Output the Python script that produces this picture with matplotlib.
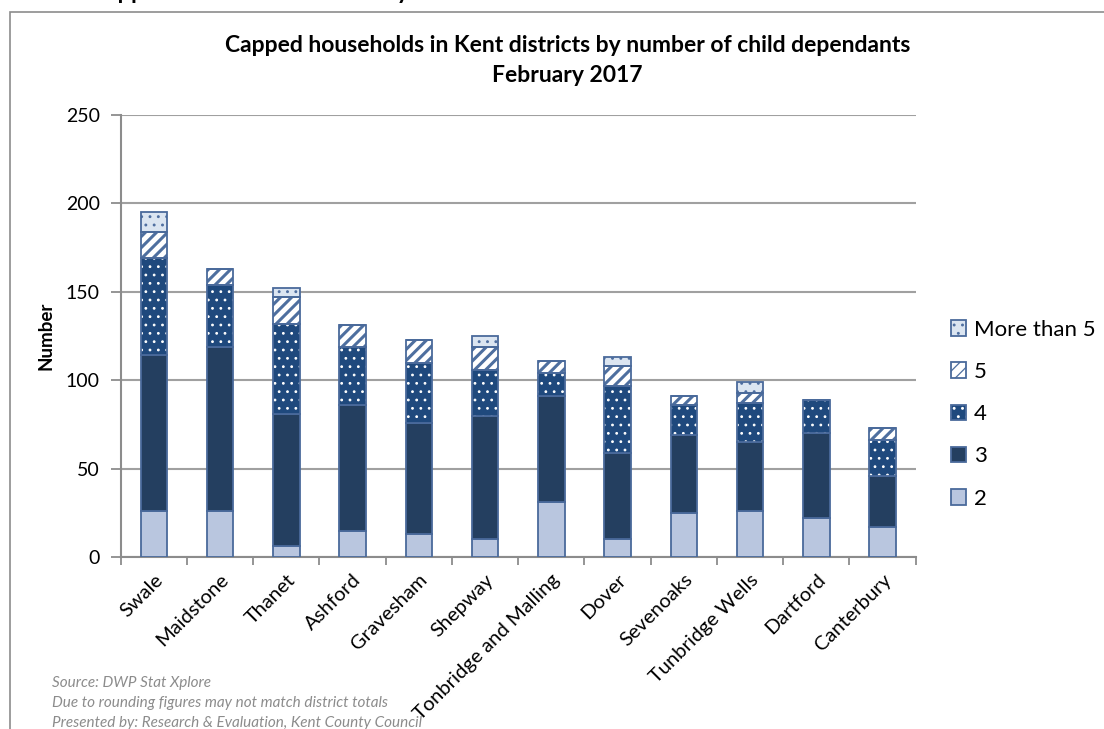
import numpy as np
import matplotlib
matplotlib.use('Agg')
from matplotlib import pyplot as plt
import matplotlib.patches as mpatches

# data
districts = ['Swale', 'Maidstone', 'Thanet', 'Ashford', 'Gravesham', 'Shepway',
             'Tonbridge and Malling', 'Dover', 'Sevenoaks', 'Tunbridge Wells',
             'Dartford', 'Canterbury']
two = [26, 26, 6, 15, 13, 10, 31, 10, 25, 26, 22, 17]
three = [88, 93, 75, 71, 63, 70, 60, 49, 44, 39, 48, 29]
four = [55, 35, 51, 33, 34, 26, 13, 38, 17, 22, 19, 20]
five = [15, 9, 15, 12, 13, 13, 7, 11, 5, 6, 0, 7]
more5 = [11, 0, 5, 0, 0, 6, 0, 5, 0, 6, 0, 0]
labels = ['2', '3', '4', '5', 'More than 5']

plt.rcParams['font.family'] = ['Lato', 'DejaVu Sans']

fig = plt.figure(figsize=(11.04, 7.29), dpi=100)
ax = fig.add_axes([0.1093, 0.2359, 0.8294 - 0.1093, 0.8422 - 0.2359])

edge = '#4a6a9b'
# (face, hatch colour, hatch, hatch linewidth)
styles = [('#b9c6df', None, None, 0),
          ('#243f60', None, None, 0),
          ('#1f497d', 'white', '..', 0.8),
          ('white', '#4e6f9f', '///', 2.2),
          ('#dbe5f1', '#4f6fa0', '..', 0.9)]

x = np.arange(len(districts))
w = 0.4
bottom = np.zeros(len(districts))
handles = []
for vals, (fc, hc, h, hlw) in zip([two, three, four, five, more5], styles):
    vals = np.array(vals, dtype=float)
    if h is None:
        ax.bar(x, vals, w, bottom=bottom, color=fc, edgecolor=edge, linewidth=1.3, zorder=3)
        handles.append(mpatches.Patch(facecolor=fc, edgecolor=edge, linewidth=1.3))
    else:
        plt.rcParams['hatch.linewidth'] = hlw
        ax.bar(x, vals, w, bottom=bottom, color=fc, edgecolor=hc, hatch=h, linewidth=0, zorder=3)
        ax.bar(x, vals, w, bottom=bottom, fill=False, edgecolor=edge, linewidth=1.3, zorder=4)
        p1 = mpatches.Patch(facecolor=fc, edgecolor=hc, hatch=h, linewidth=0)
        p2 = mpatches.Patch(fill=False, edgecolor=edge, linewidth=1.3)
        handles.append((p1, p2))
    bottom += vals

ax.set_xlim(-0.5, len(districts) - 0.5)
ax.set_ylim(0, 250)
ax.set_yticks([0, 50, 100, 150, 200, 250])
ax.yaxis.grid(True, color='#a0a0a0', linewidth=1.5, zorder=0)
ax.set_axisbelow(True)

for s in ['top', 'right']:
    ax.spines[s].set_visible(False)
for s in ['left', 'bottom']:
    ax.spines[s].set_color('#8c8c8c')
    ax.spines[s].set_linewidth(1.5)

ax.tick_params(axis='y', length=7, width=1.3, color='#8c8c8c', labelsize=14, pad=8)
ax.set_xticks(x)
ax.set_xticklabels(districts, rotation=45, ha='right', rotation_mode='anchor', fontsize=14.5)
ax.tick_params(axis='x', length=0, pad=10)
ax.set_xticks(np.arange(len(districts) + 1) - 0.5, minor=True)
ax.tick_params(axis='x', which='minor', length=6, width=1.3, color='#8c8c8c')

ax.set_ylabel('Number', fontsize=13.5, fontweight='bold', labelpad=8)

fig.text(0.514, 0.938, 'Capped households in Kent districts by number of child dependants',
         ha='center', va='center', fontsize=16.5, fontweight='bold')
fig.text(0.514, 0.897, 'February 2017', ha='center', va='center', fontsize=16.5, fontweight='bold')

# cut-off heading above the chart box
fig.text(0.0, 1.012, 'Chart 6: Capped benefit households by number of children',
         ha='left', va='center', fontsize=17, fontweight='bold')

leg = fig.legend(handles[::-1], labels[::-1], loc='center left',
                 bbox_to_anchor=(0.843, 0.432), frameon=False, fontsize=16,
                 handlelength=0.7, handleheight=0.7, handletextpad=0.35,
                 labelspacing=1.0)

# outer chart frame
fig.patches.append(mpatches.Rectangle((10 / 1104, -0.1), 1.2, 1 - 12 / 729 + 0.1,
                                      transform=fig.transFigure, fill=False,
                                      edgecolor='#8c8c8c', linewidth=1.2))

notes = ['Source: DWP Stat Xplore',
         'Due to rounding figures may not match district totals',
         'Presented by: Research & Evaluation, Kent County Council']
for i, n in enumerate(notes):
    fig.text(52 / 1104, 1 - (683 + 20 * i) / 729, n, ha='left', va='center',
             fontsize=11, style='italic', color='#8c8c8c')

fig.savefig('out.png', dpi=100)
